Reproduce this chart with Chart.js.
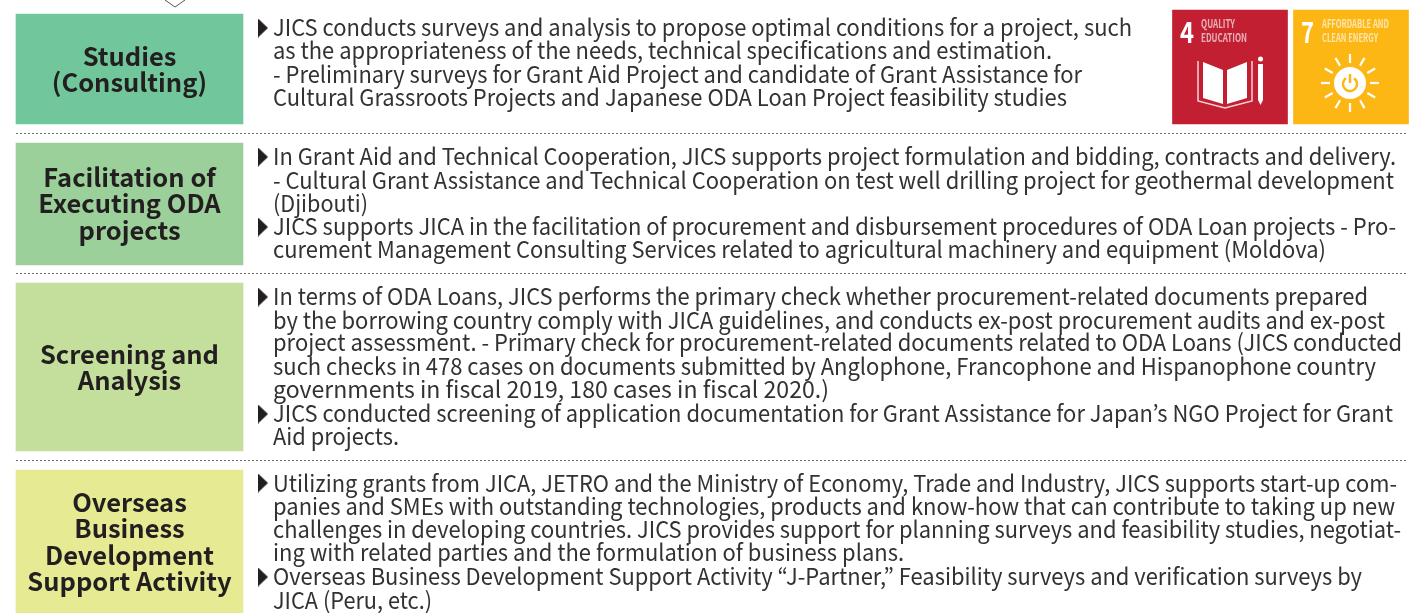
<!DOCTYPE html>
<html>
<head>
<meta charset="utf-8">
<script src="https://cdn.jsdelivr.net/npm/chart.js@4"></script>
<style>
    html, body { margin: 0; padding: 0; background: #fff; overflow: hidden; }
</style>
</head>
<body>
<canvas id="chart" width="1410" height="613"></canvas>
<script>
var categories = [
    ['Studies', '(Consulting)'],
    ['Facilitation of', 'Executing ODA', 'projects'],
    ['Screening and', 'Analysis'],
    ['Overseas', 'Business', 'Development', 'Support Activity']
];
var boxTop = [14, 143, 283, 470];
var boxBottom = [124, 265, 451, 613];
var boxColors = ['#72c69b', '#9bd09a', '#c4de9c', '#e6ea93'];
var titleCenters = [57, 178, 355, 503];

var dividers = [133.5, 273.5, 460.5];

var goalCenters = [1230, 1351];
var goalTop = [10, 10];
var goalBottom = [124, 124];
var goalColors = ['#c21f32', '#fdb714'];

var rowLines = [
    [
        'JICS conducts surveys and analysis to propose optimal conditions for a project, such',
        'as the appropriateness of the needs, technical specifications and estimation.',
        '- Preliminary surveys for Grant Aid Project and candidate of Grant Assistance for',
        'Cultural Grassroots Projects and Japanese ODA Loan Project feasibility studies'
    ],
    [
        'In Grant Aid and Technical Cooperation, JICS supports project formulation and bidding, contracts and delivery.',
        '- Cultural Grant Assistance and Technical Cooperation on test well drilling project for geothermal development',
        '(Djibouti)',
        'JICS supports JICA in the facilitation of procurement and disbursement procedures of ODA Loan projects - Pro-',
        'curement Management Consulting Services related to agricultural machinery and equipment (Moldova)'
    ],
    [
        'In terms of ODA Loans, JICS performs the primary check whether procurement-related documents prepared',
        'by the borrowing country comply with JICA guidelines, and conducts ex-post procurement audits and ex-post',
        'project assessment. - Primary check for procurement-related documents related to ODA Loans (JICS conducted',
        'such checks in 478 cases on documents submitted by Anglophone, Francophone and Hispanophone country',
        'governments in fiscal 2019, 180 cases in fiscal 2020.)',
        'JICS conducted screening of application documentation for Grant Assistance for Japan\u2019s NGO Project for Grant',
        'Aid projects.'
    ],
    [
        'Utilizing grants from JICA, JETRO and the Ministry of Economy, Trade and Industry, JICS supports start-up com-',
        'panies and SMEs with outstanding technologies, products and know-how that can contribute to taking up new',
        'challenges in developing countries. JICS provides support for planning surveys and feasibility studies, negotiat-',
        'ing with related parties and the formulation of business plans.',
        'Overseas Business Development Support Activity \u201cJ-Partner,\u201d Feasibility surveys and verification surveys by',
        'JICA (Peru, etc.)'
    ]
];
var rowRightEdges = [
    [1132, 1052, 1082, 1067],
    [1396, 1394, 368, 1396, 1326],
    [1368, 1385, 1402, 1376, 829, 1393, 399],
    [1397, 1395, 1401, 904, 1362, 432]
];
var rowBaselines = [
    [36, 59, 82.5, 106],
    [165, 188.5, 211.5, 235, 258],
    [305, 328.5, 351, 375, 398, 422, 445],
    [491.5, 515, 538, 561, 585, 608.5]
];
var bulletRows = [28, 157, 227, 297, 414, 483, 577];

var bulletImage = document.createElement('canvas');
bulletImage.width = 10;
bulletImage.height = 19;
var b = bulletImage.getContext('2d');
b.fillStyle = '#231f20';
b.beginPath();
b.moveTo(0, 0);
b.lineTo(10, 9.5);
b.lineTo(0, 19);
b.fill();

var BODY_FONT = '"Noto Sans CJK JP", "Noto Sans", sans-serif';

// draws a string squeezed between two x pixels
function fitText(ctx, str, left, right, baseline) {
    var natural = ctx.measureText(str).width;
    ctx.save();
    ctx.translate(left, baseline);
    ctx.scale((right - left) / natural, 1);
    ctx.fillText(str, 0, 0);
    ctx.restore();
}

function drawGoalIcons(ctx, x, y) {
    ctx.save();
    ctx.filter = 'blur(0.5px)';
    ctx.textAlign = 'left';
    ctx.fillStyle = '#fff';
    ctx.font = 'bold 29px ' + BODY_FONT;
    fitText(ctx, '4', x(1180), x(1194), y(43));
    fitText(ctx, '7', x(1301), x(1314), y(43));
    ctx.globalAlpha = 0.65;
    ctx.font = 'bold 11px ' + BODY_FONT;
    fitText(ctx, 'QUALITY', x(1201), x(1235), y(28));
    fitText(ctx, 'EDUCATION', x(1201), x(1247), y(42));
    fitText(ctx, 'AFFORDABLE AND', x(1322), x(1389), y(28));
    fitText(ctx, 'CLEAN ENERGY', x(1322), x(1378), y(42));
    ctx.globalAlpha = 1;

    // book
    ctx.beginPath();
    ctx.moveTo(x(1203), y(62));
    ctx.lineTo(x(1223), y(70));
    ctx.lineTo(x(1223), y(104));
    ctx.lineTo(x(1203), y(98));
    ctx.closePath();
    ctx.moveTo(x(1227), y(70));
    ctx.lineTo(x(1247), y(62));
    ctx.lineTo(x(1247), y(98));
    ctx.lineTo(x(1227), y(104));
    ctx.closePath();
    ctx.fill();
    ctx.strokeStyle = '#f3d4d6';
    ctx.lineWidth = 1.5;
    ctx.beginPath();
    ctx.moveTo(x(1198), y(61));
    ctx.lineTo(x(1198), y(101));
    ctx.lineTo(x(1225), y(108));
    ctx.lineTo(x(1252), y(101));
    ctx.lineTo(x(1252), y(61));
    ctx.stroke();

    // pencil
    ctx.beginPath();
    ctx.moveTo(x(1258), y(64));
    ctx.lineTo(x(1263), y(64));
    ctx.lineTo(x(1263), y(100));
    ctx.lineTo(x(1260.5), y(105));
    ctx.lineTo(x(1258), y(100));
    ctx.closePath();
    ctx.fill();
    ctx.beginPath();
    ctx.arc(x(1260.5), y(59), 2.5, 0, Math.PI * 2);
    ctx.fill();

    // sun
    var cx = x(1350), cy = y(83);
    ctx.beginPath();
    ctx.arc(cx, cy, 16, 0, Math.PI * 2);
    ctx.fill();
    ctx.strokeStyle = '#fff';
    ctx.lineWidth = 2.2;
    for (var i = 0; i < 12; i++) {
        var a = i * Math.PI / 6;
        ctx.beginPath();
        ctx.moveTo(cx + Math.cos(a) * 20, cy + Math.sin(a) * 20);
        ctx.lineTo(cx + Math.cos(a) * 29, cy + Math.sin(a) * 29);
        ctx.stroke();
    }
    ctx.strokeStyle = '#fdb714';
    ctx.lineWidth = 2.5;
    ctx.beginPath();
    ctx.arc(cx, cy + 1, 7, -Math.PI * 0.3, Math.PI * 1.3);
    ctx.stroke();
    ctx.beginPath();
    ctx.moveTo(cx, cy - 9);
    ctx.lineTo(cx, cy);
    ctx.stroke();
    ctx.restore();
}

var textPlugin = {
    id: 'textPlugin',
    afterDatasetsDraw: function (chart) {
        var ctx = chart.ctx;
        var xs = chart.scales.x;
        var ys = chart.scales.y;
        var x = function (v) { return xs.getPixelForValue(v); };
        var y = function (v) { return ys.getPixelForValue(v); };

        ctx.save();
        ctx.textBaseline = 'alphabetic';
        ctx.filter = 'blur(0.35px)';

        // titles of the coloured boxes
        ctx.fillStyle = '#231f20';
        ctx.textAlign = 'center';
        ctx.font = 'bold 25.5px ' + BODY_FONT;
        categories.forEach(function (lines, i) {
            lines.forEach(function (line, j) {
                ctx.fillText(line, x(129.5), y(titleCenters[i] + 9 + j * 26.4));
            });
        });

        // body text, every line squeezed to the width it has in the picture
        ctx.textAlign = 'left';
        ctx.fillStyle = '#333132';
        ctx.font = '23px ' + BODY_FONT;
        rowLines.forEach(function (lines, i) {
            lines.forEach(function (line, j) {
                fitText(ctx, line, x(273), x(rowRightEdges[i][j]), y(rowBaselines[i][j]));
            });
        });
        ctx.restore();

        drawGoalIcons(ctx, x, y);
    }
};

var chart = new Chart(document.getElementById('chart'), {
    type: 'bar',
    data: {
        datasets: [
            {
                type: 'bar',
                label: 'Activities',
                data: boxTop.map(function (t, i) { return { x: 129.5, y: [t, boxBottom[i]] }; }),
                backgroundColor: boxColors,
                barThickness: 227,
                grouped: false,
                borderWidth: 0
            },
            {
                type: 'bar',
                label: 'SDGs',
                data: goalCenters.map(function (c, i) { return { x: c, y: [goalTop[i], goalBottom[i]] }; }),
                backgroundColor: goalColors,
                barThickness: 115,
                grouped: false,
                borderWidth: 0
            },
            {
                type: 'scatter',
                label: 'Bullets',
                data: bulletRows.map(function (v) { return { x: 263, y: v }; }),
                pointStyle: bulletImage,
                showLine: false
            }
        ].concat(dividers.map(function (d) {
            return {
                type: 'line',
                label: 'Divider',
                data: [{ x: 16, y: d }, { x: 1408, y: d }],
                borderColor: '#6d6d6d',
                borderWidth: 1,
                borderDash: [2, 2],
                pointRadius: 0
            };
        })).concat([{
            type: 'line',
            label: 'Arrow',
            data: [{ x: 165, y: 0 }, { x: 175, y: 7 }, { x: 185, y: 0 }],
            borderColor: '#555',
            borderWidth: 1,
            pointRadius: 0,
            tension: 0
        }])
    },
    options: {
        responsive: false,
        animation: false,
        layout: { padding: 0, autoPadding: false },
        plugins: { legend: { display: false }, tooltip: { enabled: false } },
        scales: {
            x: { type: 'linear', min: 0, max: 1410, display: false, offset: false, grid: { offset: false } },
            y: { type: 'linear', min: 0, max: 613, reverse: true, display: false }
        }
    },
    plugins: [textPlugin]
});
</script>
</body>
</html>
